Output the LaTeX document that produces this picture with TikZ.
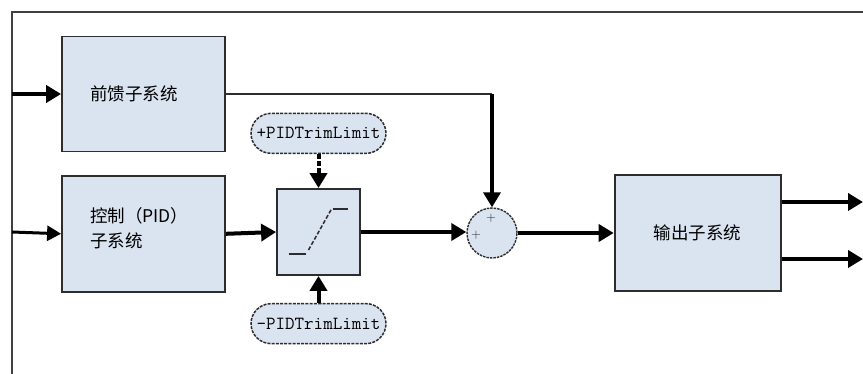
\documentclass[tikz,border=0pt]{standalone}
\usepackage{fontspec}
\newfontfamily\cjk{Noto Sans CJK SC}
\usetikzlibrary{positioning, arrows.meta, shapes.misc}
\definecolor{blockfill}{RGB}{218,227,240}
\definecolor{blockline}{RGB}{45,45,45}
\begin{document}
\begin{tikzpicture}[x=1pt, y=-1pt,
    block/.style = {draw=blockline, line width=1.8pt, fill=blockfill, font=\cjk\fontsize{17.5}{25}\selectfont},
    sideblock/.style = {block, minimum width=163pt, minimum height=115pt, text width=107pt, inner xsep=28pt, align=left},
    limit/.style = {draw=blockline, rounded rectangle, dashed, dash pattern=on 3pt off 1.2pt, line width=1.5pt, fill=blockfill, minimum width=135pt, minimum height=40pt, inner sep=0pt, font=\ttfamily\fontsize{18.5}{18.5}\selectfont},
    sumsign/.style = {font=\fontsize{13}{13}\selectfont, text=black!85, inner sep=0pt},
    sig/.style = {line width=4pt, -{Triangle[length=15pt, width=17pt]}},
    thinsig/.style = {line width=3pt, -{Triangle[length=14pt, width=15pt]}}]
    \useasboundingbox (0,0) rectangle (863,374);
    % frame
    \draw[black!75, line width=2pt] (12,374) -- (12,12) -- (863,12);
    % blocks
    \node[sideblock] (ffw) at (143.5,94) {前馈子系统};
    \node[sideblock, minimum height=116pt, below=22.5pt of ffw] (pid) {控制（PID）\\子系统\\[-12pt]\mbox{}};
    \node[block, minimum width=83pt, minimum height=86pt] (sat) at (318.5,232) {};
    \node[limit, above=34pt of sat] (uplim) {+PIDTrimLimit};
    \node[limit, below=27pt of sat] (lowlim) {-PIDTrimLimit};
    \node[draw=blockline, circle, dashed, dash pattern=on 2.5pt off 1pt, line width=1.4pt, fill=blockfill, minimum size=50pt, inner sep=0pt] (sum) at (492,233) {};
    \node[sumsign] (sumtop) at (491,218) {+};
    \node[sumsign] (sumleft) at (476,235) {+};
    \node[block, minimum width=166pt, minimum height=116pt, right=96pt of sum] (out) {输出子系统};
    % saturation symbol
    \draw[blockline, line width=1.5pt] ([shift={(-30,22)}]sat.center) -- ([shift={(-13,22)}]sat.center);
    \draw[blockline, line width=1.5pt, dashed, dash pattern=on 4pt off 2pt] ([shift={(-10,18)}]sat.center) -- ([shift={(13,-23)}]sat.center);
    \draw[blockline, line width=1.5pt] ([shift={(14,-23)}]sat.center) -- ([shift={(29,-23)}]sat.center);
    % signals
    \coordinate (inA) at (12,94);
    \coordinate (inB) at (12,232);
    \coordinate (outA) at (863,202);
    \coordinate (outB) at (863,259);
    \draw[sig] (inA) -- (ffw.west);
    \draw[thinsig] (inB) -- (pid.west);
    \draw[sig] (pid.east) -- (sat.west);
    \draw[sig, dashed, dash pattern=on 5pt off 2pt] (uplim.south) -- (sat.north);
    \draw[sig] (lowlim.north) -- (sat.south);
    \draw[sig] (sat.east) -- (sat.east -| sum.west);
    \coordinate (ffcorner) at (ffw.east -| sum.north);
    \draw[blockline, line width=1.5pt] (ffw.east) -- (ffcorner);
    \draw[sig] (ffcorner) -- (sum.north);
    \draw[sig] (sum.east) -- (out.west);
    \draw[sig] (out.east |- outA) -- (outA);
    \draw[sig] (out.east |- outB) -- (outB);
\end{tikzpicture}
\end{document}
